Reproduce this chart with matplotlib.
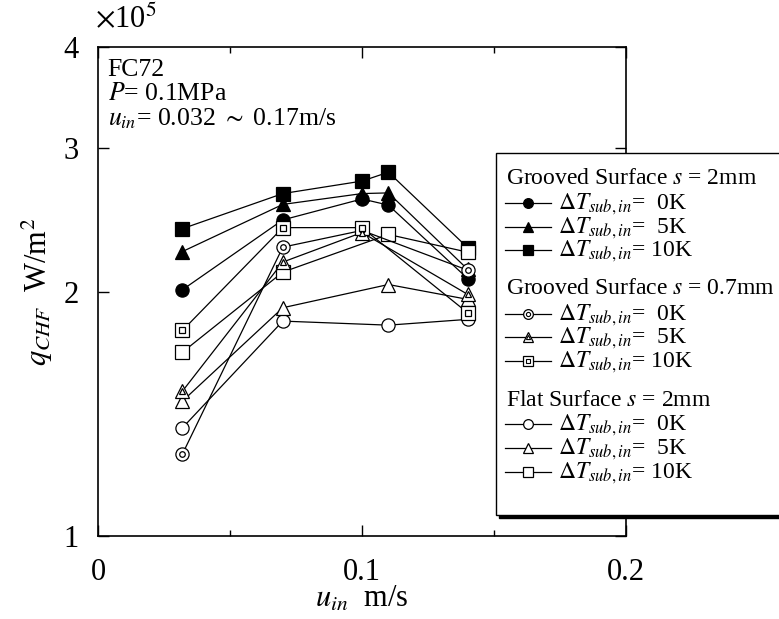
import matplotlib
matplotlib.use("Agg")
import matplotlib.pyplot as plt
from matplotlib.lines import Line2D
from matplotlib.patches import Rectangle
from matplotlib.ticker import FixedLocator, NullLocator, NullFormatter, FixedFormatter

plt.rcParams["font.family"] = ["Liberation Serif", "DejaVu Serif"]
plt.rcParams["mathtext.fontset"] = "stix"

# Inlet velocity (m/s)
u_in = [0.032, 0.070, 0.100, 0.110, 0.140]
u_in_g07 = [0.032, 0.070, 0.100, 0.140]
u_in_flat = [0.032, 0.070, 0.110, 0.140]

# Critical heat flux, x10^5 W/m^2
g2_0K = [2.01, 2.45, 2.60, 2.555, 2.075]
g2_5K = [2.24, 2.56, 2.64, 2.645, 2.13]
g2_10K = [2.39, 2.64, 2.735, 2.805, 2.265]

g07_0K = [1.262, 2.268, 2.378, 2.125]
g07_5K = [1.508, 2.174, 2.364, 1.984]
g07_10K = [1.791, 2.397, 2.397, 1.883]

flat_0K = [1.359, 1.839, 1.818, 1.848]
flat_5K = [1.466, 1.910, 2.040, 1.956]
flat_10K = [1.684, 2.113, 2.351, 2.236]

y_ticks = [1, 2, 3, 4]
x_ticks = [0, 0.1, 0.2]
x_minor = [0.05, 0.15]

W, H = 779, 619
fig = plt.figure(figsize=(W / 100, H / 100), dpi=100)
ax = fig.add_axes([98 / W, 1 - 536 / H, (626 - 98) / W, (536 - 47) / H])


def fx(px):
    return px / W


def fy(py):
    return 1 - py / H


LW = 0.9
MS = 9.5
base = dict(color="black", lw=LW, mec="black", mew=0.9, ms=MS, zorder=3)

# Grooved surface, s = 2 mm (filled markers)
ax.plot(u_in, g2_0K, marker="o", mfc="black", **base)
ax.plot(u_in, g2_5K, marker="^", mfc="black", **base)
ax.plot(u_in, g2_10K, marker="s", mfc="black", **base)

# Flat surface (open markers)
ax.plot(u_in_flat, flat_0K, marker="o", mfc="white", **base)
ax.plot(u_in_flat, flat_5K, marker="^", mfc="white", **base)
ax.plot(u_in_flat, flat_10K, marker="s", mfc="white", **base)

# Grooved surface, s = 0.7 mm (double markers)
for ys, m, inner in [(g07_0K, "o", 4.0), (g07_5K, "^", 4.5), (g07_10K, "s", 4.0)]:
    ax.plot(u_in_g07, ys, marker=m, mfc="white", **base)
    ax.plot(u_in_g07, ys, ls="none", marker=m, mfc="white", mec="black",
            mew=0.9, ms=inner, zorder=4)

ax.set_xscale("linear")
ax.set_yscale("log")
ax.set_xlim(0, 0.2)
ax.set_ylim(1, 4)

ax.xaxis.set_major_locator(FixedLocator(x_ticks))
ax.xaxis.set_major_formatter(FixedFormatter(["0", "0.1", "0.2"]))
ax.xaxis.set_minor_locator(FixedLocator(x_minor))
ax.yaxis.set_major_locator(FixedLocator(y_ticks))
ax.yaxis.set_major_formatter(FixedFormatter([str(v) for v in y_ticks]))
ax.yaxis.set_minor_locator(NullLocator())
ax.yaxis.set_minor_formatter(NullFormatter())

ax.tick_params(which="both", direction="in", top=True, right=True,
               labelsize=22, width=1.0)
ax.tick_params(which="major", length=8)
ax.tick_params(which="minor", length=4)
ax.tick_params(axis="x", pad=16)
ax.tick_params(axis="y", pad=14)
for sp in ax.spines.values():
    sp.set_linewidth(1.2)

ax.set_xlabel(r"$u_{in}$  m/s", fontsize=22, labelpad=-2)
ax.set_ylabel(r"$q_{CHF}$  W/m$^2$", fontsize=22, labelpad=6)

fig.text(fx(95), fy(20), r"$\times$10$^5$", fontsize=22, va="center", ha="left")

ax.text(0.018, 0.975, "FC72", transform=ax.transAxes, fontsize=18.5,
        va="top", ha="left")
ax.text(0.018, 0.927, r"$P$= 0.1MPa", transform=ax.transAxes, fontsize=18.5,
        va="top", ha="left")
ax.text(0.018, 0.879, r"$u_{in}$= 0.032 $\sim$ 0.17m/s",
        transform=ax.transAxes, fontsize=18.5, va="top", ha="left")

# Legend panel drawn in figure pixels
box_l, box_t, box_b, box_r = 496, 153, 515, 800
shadow = Rectangle((fx(box_l + 3), fy(box_b + 3)), fx(box_r - box_l),
                   fy(box_t) - fy(box_b), transform=fig.transFigure,
                   facecolor="black", edgecolor="black", zorder=5)
frame = Rectangle((fx(box_l), fy(box_b)), fx(box_r - box_l),
                  fy(box_t) - fy(box_b), transform=fig.transFigure,
                  facecolor="white", edgecolor="black", lw=1.0, zorder=6)
fig.add_artist(shadow)
fig.add_artist(frame)

groups = [
    (r"Grooved Surface $s$ = 2mm", 179, "filled", [203, 227, 250]),
    (r"Grooved Surface $s$ = 0.7mm", 289, "double", [314, 337, 361]),
    (r"Flat Surface $s$ = 2mm", 401, "open", [424, 448, 472]),
]
labels = [r"$\Delta T_{sub,in}$=  0K", r"$\Delta T_{sub,in}$=  5K",
          r"$\Delta T_{sub,in}$= 10K"]
marks = ["o", "^", "s"]
for head, hy, kind, rows in groups:
    fig.text(fx(506), fy(hy), head, fontsize=17, va="center", ha="left",
             zorder=8)
    for m, lab, ry in zip(marks, labels, rows):
        fig.add_artist(Line2D([fx(505), fx(551)], [fy(ry), fy(ry)],
                              transform=fig.transFigure, color="black",
                              lw=LW, zorder=7))
        face = "black" if kind == "filled" else "white"
        fig.add_artist(Line2D([fx(528)], [fy(ry)], transform=fig.transFigure,
                              marker=m, ms=7, mfc=face, mec="black", mew=0.9,
                              ls="none", zorder=8))
        if kind == "double":
            fig.add_artist(Line2D([fx(528)], [fy(ry)],
                                  transform=fig.transFigure, marker=m, ms=3,
                                  mfc="white", mec="black", mew=0.8,
                                  ls="none", zorder=9))
        fig.text(fx(558), fy(ry + 1), lab, fontsize=17, va="center",
                 ha="left", zorder=8)

fig.savefig("out.png", dpi=100)
